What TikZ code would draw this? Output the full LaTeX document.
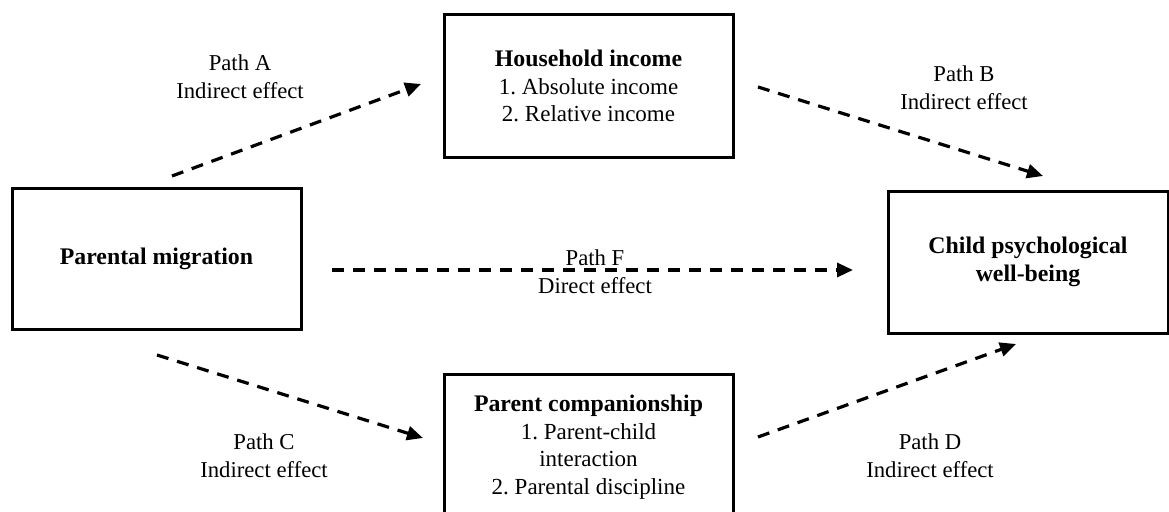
\documentclass[tikz,border=0pt]{standalone}
\usepackage{fontspec}
\setmainfont{Liberation Serif}
\usetikzlibrary{arrows.meta}
\newcommand{\bttl}[1]{{\fontsize{23.8}{27.5}\selectfont\bfseries #1}}
\begin{document}
\frenchspacing
\begin{tikzpicture}[x=1pt,y=-1pt,
  box/.style={draw=black,line width=3pt,rectangle,align=center,inner sep=0pt,
    font=\fontsize{23}{27.5}\selectfont},
  lbl/.style={align=center,inner sep=0pt,font=\fontsize{22.7}{28}\selectfont},
  patharrow/.style={line width=3.2pt,dash pattern=on 12pt off 9pt,
    -{Triangle[length=16pt,width=14pt]}}]
\useasboundingbox (0,0) rectangle (1169,511);
\clip (0,0) rectangle (1169,511);
\fill[white] (0,0) rectangle (1169,511);
% boxes
\node[box,minimum width=289pt,minimum height=141pt] (pm) at (156.5,258.5) {\bttl{Parental migration}};
\node[box,minimum width=289pt,minimum height=142pt] (hi) at (588.5,86) {\bttl{Household income}\\1. Absolute income\\2. Relative income};
\node[box,minimum width=289pt,minimum height=146pt] (pc) at (588.5,447) {\bttl{Parent companionship}\\1. Parent-child\\interaction\\2. Parental discipline};
\node[box,minimum width=280pt,minimum height=142pt] (cw) at (1028,262) {\bttl{Child psychological}\\\bttl{well-being}};
% arrow end points
\coordinate (a1) at (172,176);  \coordinate (a2) at (421,84);
\coordinate (b1) at (758,87);   \coordinate (b2) at (1043,176);
\coordinate (f1) at (332,270);  \coordinate (f2) at (853,270);
\coordinate (c1) at (157,355);  \coordinate (c2) at (423,438);
\coordinate (d1) at (758,437);  \coordinate (d2) at (1016,344);
\draw[patharrow] (a1) -- (a2);
\draw[patharrow] (b1) -- (b2);
\draw[patharrow] (f1) -- (f2);
\draw[patharrow] (c1) -- (c2);
\draw[patharrow] (d1) -- (d2);
% labels
\node[lbl] (la) at (240,77) {Path A\\Indirect effect};
\node[lbl] (lb) at (964,88) {Path B\\Indirect effect};
\node[lbl] (lf) at (595,272) {Path F\\Direct effect};
\node[lbl] (lc) at (264,456) {Path C\\Indirect effect};
\node[lbl] (ld) at (930,456) {Path D\\Indirect effect};
\end{tikzpicture}
\end{document}
